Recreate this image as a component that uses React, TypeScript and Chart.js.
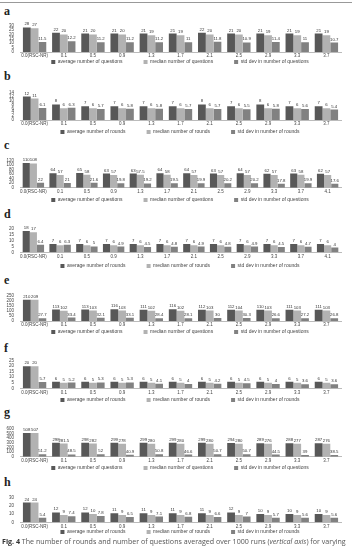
import React, { useEffect, useRef } from "react";
import { Chart, registerables } from "chart.js";
Chart.register(...registerables);

const cats11 = ["0.0(RSC-NR)", "0.1", "0.5", "0.9", "1.3", "1.7", "2.1", "2.5", "2.9", "3.3", "3.7"];
const cats12 = [...cats11, "4.1"];

const aAvg = [28, 22, 21, 21, 21, 21, 22, 21, 21, 21, 21];
const aMed = [27, 20, 20, 20, 19, 19, 20, 20, 19, 19, 19];
const aStd = [11.5, 12.2, 11.2, 11.2, 11.2, 11, 11.8, 10.9, 11.4, 11, 10.7];

const bAvg = [12, 8, 7, 7, 7, 7, 8, 7, 8, 7, 7];
const bMed = [11, 6, 6, 6, 6, 6, 6, 6, 6, 6, 6];
const bStd = [6.1, 6.3, 5.7, 5.8, 5.8, 5.7, 5.7, 5.5, 5.8, 5.6, 5.4];

const cAvg = [110, 64, 65, 63, 63, 64, 64, 63, 64, 62, 63, 62];
const cMed = [108, 57, 58, 57, 57.5, 58, 57, 57, 57, 57, 58, 57];
const cStd = [22, 21, 21.6, 19.8, 19.2, 19.5, 19.9, 20.2, 20.2, 17.8, 19.9, 17.6];

const dAvg = [18, 7, 7, 7, 7, 7, 7, 7, 7, 7, 7, 7];
const dMed = [17, 6, 6, 6, 6, 6, 6, 6, 6, 6, 6, 6];
const dStd = [6.4, 6.3, 5, 4.9, 4.5, 4.8, 4.9, 4.8, 4.9, 4.5, 4.7, 4];

const eAvg = [210, 113, 113, 116, 111, 116, 112, 112, 110, 111, 111];
const eMed = [209, 102, 103, 103, 102, 102, 103, 104, 103, 103, 103];
const eStd = [27.7, 33.4, 32.1, 33.1, 28.4, 28.1, 30, 30.3, 26.6, 27.2, 26.8];

const fAvg = [20, 6, 6, 6, 6, 6, 6, 6, 6, 6, 6];
const fMed = [20, 5, 5, 5, 5, 5, 5, 5, 5, 5, 5];
const fStd = [5.7, 5.2, 5.3, 5.3, 4.1, 4, 4.2, 4.5, 4, 3.6, 3.6];

const gAvg = [508, 298, 298, 299, 299, 299, 299, 294, 289, 288, 287];
const gMed = [507, 281.5, 282, 278, 280, 280, 280, 280, 276, 277, 276];
const gStd = [51.2, 48.5, 52, 40.9, 50.8, 46.6, 50.7, 50.7, 44.5, 39, 38.5];

const hAvg = [24, 12, 12, 11, 11, 11, 11, 12, 10, 10, 10];
const hMed = [24, 9, 10, 9, 9, 9, 9, 9, 9, 9, 9];
const hStd = [5.4, 7.4, 7.8, 6.5, 7.1, 6.8, 6.6, 7, 5.7, 5.6, 5.6];

const qLabels = ["average number of questions", "median number of questions", "std dev in number of questions"];
const rLabels = ["average number of rounds", "median number of rounds", "std dev in number of rounds"];

const colors = ["#585858", "#b2b2b2", "#818181"];
const FONT = "'Liberation Sans', Arial, sans-serif";

type Panel = {
  letter: string;
  cats: string[];
  series: number[][];
  names: string[];
  max: number;
  step: number;
  T: number; // top tick y
  B: number; // baseline y
  L: number; // legend centre y
  letterY: number;
};

const panels: Panel[] = [
  { letter: "a", cats: cats11, series: [aAvg, aMed, aStd], names: qLabels, max: 30, step: 5, T: 20, B: 52, L: 62, letterY: 5 },
  { letter: "b", cats: cats11, series: [bAvg, bMed, bStd], names: rLabels, max: 14, step: 2, T: 86.7, B: 120, L: 132, letterY: 70 },
  { letter: "c", cats: cats12, series: [cAvg, cMed, cStd], names: qLabels, max: 120, step: 20, T: 155, B: 187.7, L: 200, letterY: 139 },
  { letter: "d", cats: cats12, series: [dAvg, dMed, dStd], names: rLabels, max: 20, step: 5, T: 223.3, B: 252.3, L: 265.6, letterY: 208 },
  { letter: "e", cats: cats11, series: [eAvg, eMed, eStd], names: qLabels, max: 250, step: 50, T: 290, B: 321, L: 332.3, letterY: 274 },
  { letter: "f", cats: cats11, series: [fAvg, fMed, fStd], names: rLabels, max: 25, step: 5, T: 355, B: 388.3, L: 400, letterY: 342 },
  { letter: "g", cats: cats11, series: [gAvg, gMed, gStd], names: qLabels, max: 600, step: 100, T: 423.3, B: 456.7, L: 467.7, letterY: 406 },
  { letter: "h", cats: cats11, series: [hAvg, hMed, hStd], names: rLabels, max: 30, step: 10, T: 492.3, B: 522.3, L: 532.3, letterY: 476 },
];

const valueLabels = {
  id: "valueLabels",
  afterDatasetsDraw(chart: any) {
    const ctx = chart.ctx;
    ctx.save();
    ctx.font = `4.3px ${FONT}`;
    ctx.fillStyle = "#333";
    ctx.textAlign = "center";
    ctx.textBaseline = "bottom";
    chart.data.datasets.forEach((ds: any, i: number) => {
      const meta = chart.getDatasetMeta(i);
      meta.data.forEach((el: any, j: number) => {
        ctx.fillText(String(ds.data[j]), el.x, el.y - 1);
      });
    });
    ctx.restore();
  },
};

const spreadLegend = {
  id: "spreadLegend",
  afterDraw(chart: any) {
    const ctx = chart.ctx;
    ctx.save();
    ctx.font = `5px ${FONT}`;
    ctx.textBaseline = "middle";
    ctx.textAlign = "left";
    const box = 4;
    const gapBox = 2.5;
    const gapItem = 21;
    const items = chart.data.datasets.map((ds: any) => ({
      text: ds.label,
      color: ds.backgroundColor,
      w: box + gapBox + ctx.measureText(ds.label).width,
    }));
    const total = items.reduce((s: number, it: any) => s + it.w, 0) + gapItem * (items.length - 1);
    let x = (chart.width - total) / 2 + 4;
    const y = chart.height - 5;
    items.forEach((it: any) => {
      ctx.fillStyle = it.color;
      ctx.fillRect(x, y - box / 2, box, box);
      ctx.fillStyle = "#444";
      ctx.fillText(it.text, x + box + gapBox, y);
      x += it.w + gapItem;
    });
    ctx.restore();
  },
};

function PanelChart({ p }: { p: Panel }) {
  const ref = useRef<HTMLCanvasElement>(null);
  const top = Math.round(p.T) - 3;
  const height = Math.round(p.L) + 5 - top;
  const xAxisH = 7;
  const bottomPad = top + height - xAxisH - p.B;
  const padTop = p.T - top;
  useEffect(() => {
    const chart = new Chart(ref.current!, {
      type: "bar",
      data: {
        labels: p.cats,
        datasets: p.series.map((s, i) => ({
          label: p.names[i],
          data: s,
          backgroundColor: colors[i],
          borderWidth: 0,
          categoryPercentage: 0.8,
          barPercentage: 1.0,
        })),
      },
      options: {
        animation: false,
        responsive: false,
        layout: { autoPadding: false, padding: { left: 0, right: 11, top: padTop, bottom: bottomPad } },
        plugins: {
          legend: { display: false },
          tooltip: { enabled: false },
        },
        scales: {
          x: {
            grid: { display: false, drawTicks: false },
            border: { color: "#bbb" },
            ticks: { font: { size: 4.5, family: FONT }, color: "#444", maxRotation: 0, minRotation: 0, autoSkip: false, padding: 1.5 },
            afterFit: (scale: any) => {
              scale.height = xAxisH;
            },
          },
          y: {
            min: 0,
            max: p.max,
            grid: { display: false, drawTicks: false },
            border: { display: false },
            ticks: { stepSize: p.step, autoSkip: false, font: { size: 4.5, family: FONT }, color: "#444", padding: 6 },
            afterFit: (scale: any) => {
              scale.width = 20;
            },
          },
        },
      },
      plugins: [valueLabels, spreadLegend],
    });
    return () => chart.destroy();
  }, []);
  return (
    <canvas
      ref={ref}
      width={352}
      height={height}
      style={{ position: "absolute", left: 0, top, width: 352, height }}
    />
  );
}

export default function App() {
  return (
    <div style={{ position: "absolute", left: 0, top: 0, width: 352, height: 552, background: "#fff", overflow: "hidden" }}>
      <div style={{ position: "absolute", left: 0, top: 2, width: 352, height: 0, borderTop: "1px solid #999" }} />
      {panels.map((p) => (
        <React.Fragment key={p.letter}>
          <div
            style={{
              position: "absolute",
              left: 4,
              top: p.letterY,
              fontFamily: "'Liberation Serif', serif",
              fontWeight: "bold",
              fontSize: 12,
              lineHeight: "12px",
              color: "#222",
            }}
          >
            {p.letter}
          </div>
          <PanelChart p={p} />
        </React.Fragment>
      ))}
      <div
        style={{
          position: "absolute",
          left: 2,
          top: 537,
          width: 380,
          whiteSpace: "nowrap",
          fontFamily: "'Open Sans', 'Noto Sans', sans-serif",
          fontSize: 7.1,
          lineHeight: "9px",
          color: "#555",
        }}
      >
        <b style={{ color: "#333" }}>Fig. 4</b> The number of rounds and number of questions averaged over 1000 runs (<i>vertical axis</i>) for varying
      </div>
    </div>
  );
}
